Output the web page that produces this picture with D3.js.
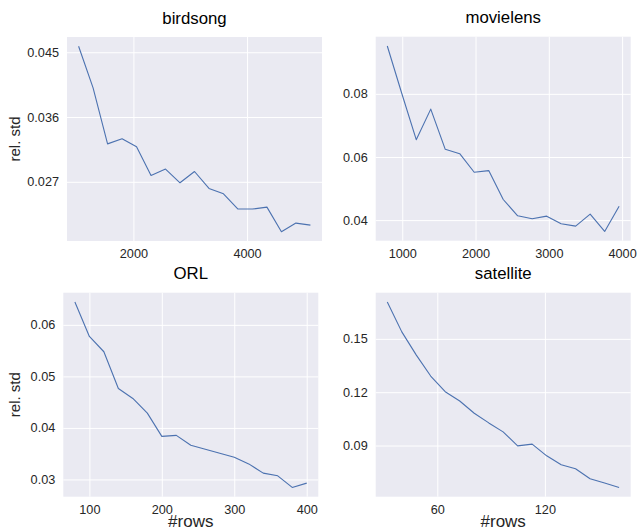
<!DOCTYPE html>
<html>
<head>
<meta charset="utf-8">
<script src="https://cdn.jsdelivr.net/npm/d3@7"></script>
<style>
  html, body { margin: 0; padding: 0; background: #fff; }
  svg { display: block; font-family: "Liberation Sans", Arial, Helvetica, sans-serif; }
</style>
</head>
<body>
<svg width="640" height="531"></svg>
<script>
// 데이터
const birdsongRows = [1035, 1290, 1545, 1800, 2055, 2310, 2565, 2820, 3075, 3330, 3585, 3840, 4095, 4350, 4605, 4860, 5115];
const birdsongStd = [0.04583, 0.04005, 0.03227, 0.03297, 0.03186, 0.02788, 0.02876, 0.02686, 0.02843, 0.02607, 0.02533, 0.02321, 0.02321, 0.02348, 0.02006, 0.02126, 0.02098];

const movielensRows = [796, 994, 1191, 1389, 1587, 1784, 1982, 2180, 2378, 2575, 2773, 2971, 3168, 3366, 3564, 3762, 3959];
const movielensStd = [0.09516, 0.08011, 0.06547, 0.07516, 0.06242, 0.06105, 0.05516, 0.05568, 0.04653, 0.04137, 0.04042, 0.04126, 0.03884, 0.03811, 0.04189, 0.03642, 0.04442];

const orlRows = [80, 100, 120, 140, 160, 180, 200, 220, 240, 260, 280, 300, 320, 340, 360, 380, 400];
const orlStd = [0.06444, 0.05775, 0.05478, 0.04764, 0.04571, 0.04287, 0.03836, 0.03856, 0.03663, 0.03585, 0.03508, 0.03431, 0.03302, 0.03122, 0.0307, 0.02845, 0.02929];

const satelliteRows = [32.1, 40.2, 48.3, 56.3, 64.4, 72.5, 80.6, 88.7, 96.7, 104.8, 112.9, 121.0, 129.1, 137.1, 145.2, 153.3, 161.4];
const satelliteStd = [0.17075, 0.15393, 0.14086, 0.12908, 0.12027, 0.11506, 0.10816, 0.10272, 0.09767, 0.08982, 0.09077, 0.08421, 0.07916, 0.07692, 0.07131, 0.0689, 0.06643];

// 눈금
const birdsongXTicks = [2000, 4000];
const birdsongYTicks = [0.027, 0.036, 0.045];
const movielensXTicks = [1000, 2000, 3000, 4000];
const movielensYTicks = [0.04, 0.06, 0.08];
const orlXTicks = [100, 200, 300, 400];
const orlYTicks = [0.03, 0.04, 0.05, 0.06];
const satelliteXTicks = [60, 120];
const satelliteYTicks = [0.09, 0.12, 0.15];

const svg = d3.select("svg");

// 패널 위치 (left, top, right, bottom)
const panels = [
  { title: "birdsong", x: birdsongRows, y: birdsongStd, xt: birdsongXTicks, yt: birdsongYTicks, yf: ".3f",
    box: [67, 37, 322, 241], ylabel: true, xlabel: false },
  { title: "movielens", x: movielensRows, y: movielensStd, xt: movielensXTicks, yt: movielensYTicks, yf: ".2f",
    box: [375.7, 36.7, 630.7, 240.7], ylabel: false, xlabel: false },
  { title: "ORL", x: orlRows, y: orlStd, xt: orlXTicks, yt: orlYTicks, yf: ".2f",
    box: [63.3, 292.7, 318.3, 496.7], ylabel: true, xlabel: true },
  { title: "satellite", x: satelliteRows, y: satelliteStd, xt: satelliteXTicks, yt: satelliteYTicks, yf: ".2f",
    box: [375.7, 292.7, 630.7, 496.7], ylabel: false, xlabel: true }
];

// matplotlib 기본 여백(5%)처럼 도메인 계산
function padded(values) {
  const [lo, hi] = d3.extent(values);
  const m = (hi - lo) * 0.05;
  return [lo - m, hi + m];
}

panels.forEach(renderPanel);

function renderPanel(p) {
  const [l, t, r, b] = p.box;
  const w = r - l;
  const h = b - t;
  const g = svg.append("g").attr("transform", `translate(${l}, ${t})`);

  const x = d3.scaleLinear().domain(padded(p.x)).range([0, w]);
  const y = d3.scaleLinear().domain(padded(p.y)).range([h, 0]);

  g.append("rect").attr("width", w).attr("height", h).attr("fill", "#eaeaf2");

  const xAxis = g.append("g")
    .attr("transform", `translate(0, ${h})`)
    .call(d3.axisBottom(x).tickValues(p.xt).tickSize(-h).tickPadding(8).tickFormat(d3.format("d")));
  const yAxis = g.append("g")
    .call(d3.axisLeft(y).tickValues(p.yt).tickSize(-w).tickPadding(8).tickFormat(d3.format(p.yf)));

  [xAxis, yAxis].forEach((a) => {
    a.select(".domain").remove();
    a.selectAll("line").attr("stroke", "#fff").attr("stroke-width", 1);
    a.selectAll("text")
      .attr("fill", "#262626")
      .style("font-size", "12.7px")
      .attr("font-family", null);
  });

  const line = d3.line().x((d) => x(d[0])).y((d) => y(d[1]));
  g.append("path")
    .datum(d3.zip(p.x, p.y))
    .attr("d", line)
    .attr("fill", "none")
    .attr("stroke", "#4c72b0")
    .attr("stroke-width", 1.1)
    .attr("stroke-linejoin", "round");

  g.append("text")
    .text(p.title)
    .attr("x", w / 2)
    .attr("y", -13.5)
    .attr("text-anchor", "middle")
    .style("font-size", "16.8px")
    .style("fill", "#000");

  if (p.ylabel) {
    g.append("text")
      .text("rel. std")
      .attr("transform", `translate(${-l + 20}, ${h / 2}) rotate(-90)`)
      .attr("text-anchor", "middle")
      .style("font-size", "15px")
      .style("fill", "#262626");
  }
  if (p.xlabel) {
    g.append("text")
      .text("#rows")
      .attr("x", w / 2)
      .attr("y", h + 30.5)
      .attr("text-anchor", "middle")
      .style("font-size", "17px")
      .style("fill", "#262626");
  }
}
</script>
</body>
</html>
